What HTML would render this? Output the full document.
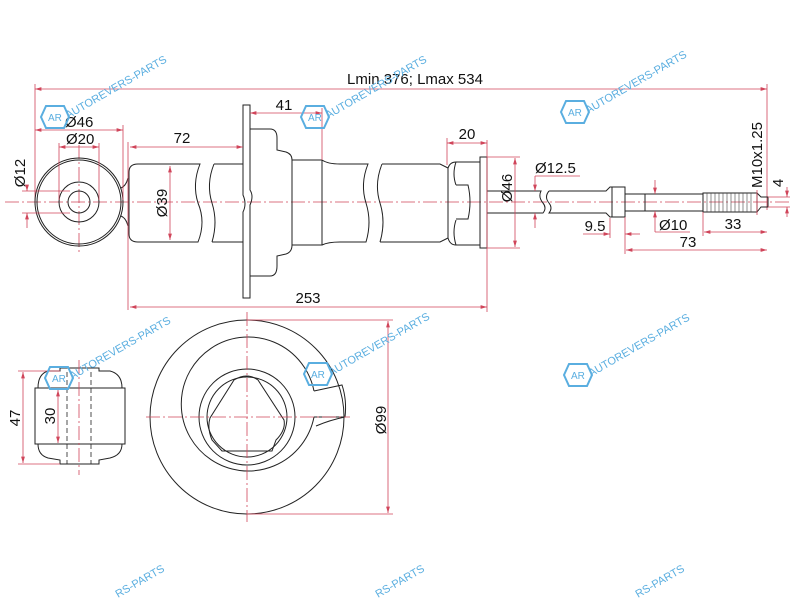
<!DOCTYPE html>
<html><head><meta charset="utf-8"><style>
html,body{margin:0;padding:0;background:#fff;width:800px;height:600px;overflow:hidden;}
svg{display:block;overflow:hidden}
text{font-family:"Liberation Sans",sans-serif;}
.o{fill:none;stroke:#222;stroke-width:1}
.d{stroke:#d0455a;stroke-width:0.8;fill:none}
.c{stroke:#d0455a;stroke-width:0.8;fill:none;stroke-dasharray:14 3 2 3}
.h{stroke:#222;stroke-width:0.8;fill:none;stroke-dasharray:5 3}
.t{font-size:15px;fill:#111}
.wm{font-size:11px;fill:#5aaee0}
</style></head><body>
<svg width="800" height="600" viewBox="0 0 800 600" xmlns="http://www.w3.org/2000/svg">
<defs>
<marker id="a" viewBox="0 0 10 6" refX="10" refY="3" markerWidth="8" markerHeight="5" orient="auto-start-reverse"><path d="M0,0L10,3L0,6z" fill="#d0455a"/></marker>
<g id="wm"><polygon points="-9,-11 9,-11 14,0 9,11 -9,11 -14,0" fill="none" stroke="#5aaee0" stroke-width="2"/><text x="-7" y="4" style="font-size:10px;fill:#5aaee0">AR</text><text x="13" y="2" class="wm" transform="rotate(-30 13 2)">AUTOREVERS-PARTS</text></g>
</defs>

<line class="d" x1="35" y1="89" x2="767" y2="89" marker-start="url(#a)" marker-end="url(#a)"/>
<line class="d" x1="35" y1="84" x2="35" y2="205"/>
<line class="d" x1="767" y1="84" x2="767" y2="210"/>
<text class="t" x="415" y="84" text-anchor="middle">Lmin 376; Lmax 534</text>

<line class="c" x1="5" y1="202" x2="792" y2="202"/>
<line class="c" x1="79" y1="145" x2="79" y2="255"/>

<circle class="o" cx="79" cy="202" r="44"/>
<circle class="o" cx="79" cy="202" r="42"/>
<circle class="o" cx="79" cy="202" r="20"/>
<circle class="o" cx="79" cy="202" r="11"/>
<path class="o" d="M121,188 Q126,186 128,178 M121,216 Q126,218 128,226"/>
<line class="d" x1="35" y1="130" x2="123" y2="130" marker-start="url(#a)" marker-end="url(#a)"/>
<line class="d" x1="123" y1="125" x2="123" y2="200"/>
<text class="t" x="65" y="127">Ø46</text>
<line class="d" x1="59" y1="147" x2="99" y2="147" marker-start="url(#a)" marker-end="url(#a)"/>
<line class="d" x1="59" y1="143" x2="59" y2="200"/><line class="d" x1="99" y1="143" x2="99" y2="200"/>
<text class="t" x="66" y="144">Ø20</text>
<line class="d" x1="27" y1="185" x2="27" y2="191" marker-end="url(#a)"/>
<line class="d" x1="27" y1="228" x2="27" y2="213" marker-end="url(#a)"/>
<line class="d" x1="22" y1="191" x2="70" y2="191"/><line class="d" x1="22" y1="213" x2="70" y2="213"/>
<text class="t" x="25" y="173" text-anchor="middle" transform="rotate(-90 25 173)">Ø12</text>

<path class="o" d="M200,164 L138,164 Q129,164 129,172 L129,234 Q129,242 138,242 L198,242 Q206,222 198,203 Q192,184 200,164Z"/>
<path class="o" d="M214,164 L243,164 M212,242 L243,242 M214,164 Q206,184 212,203 Q218,222 212,242"/>
<path class="o" d="M243,105 L250,105 L250,190 Q254,196 250,205 L250,298 L243,298 L243,212 Q247,204 243,195Z"/>
<line class="d" x1="170" y1="166" x2="170" y2="240" marker-start="url(#a)" marker-end="url(#a)"/>
<text class="t" x="167" y="203" text-anchor="middle" transform="rotate(-90 167 203)">Ø39</text>
<path class="o" d="M250,129 L270,129 Q277,129 277,138 L277,150 L286,152 Q292,154 292,160 L322,160 L322,245 L292,245 Q292,252 286,254 L277,256 L277,266 Q277,276 270,276 L250,276"/>
<line class="o" x1="292" y1="160" x2="292" y2="245"/>
<path class="o" d="M322,160 Q328,164 340,164 L368,164 Q360,184 366,203 Q372,222 366,242 L340,242 Q328,242 322,245"/>
<path class="o" d="M382,164 L440,164 L448,168 M380,242 L440,242 L448,238 M382,164 Q374,184 380,203 Q386,222 380,242"/>
<path class="o" d="M448,168 L448,238 M448,168 Q450,162 456,162 L480,162 L480,245 L456,245 Q450,245 448,238"/>
<path class="o" d="M456,162 Q452,174 456,185 M456,220 Q452,232 456,245 M456,185 L468,185 Q472,202 468,219 L456,219"/>
<rect class="o" x="480" y="157" width="7" height="91"/>
<path class="o" d="M487,191 L541,191 Q538,197 543,203 Q547,208 543,213 L487,213"/>
<path class="o" d="M549,191 L606,191 L610,187 L625,187 L625,217 L610,217 L606,213 L549,213 Q553,208 549,203 Q544,197 549,191"/>
<line class="o" x1="612" y1="187" x2="612" y2="217"/>
<path class="o" d="M625,194 L703,194 L703,211 L625,211"/>
<line class="o" x1="645" y1="194" x2="645" y2="211"/>
<rect class="o" x="703" y="193" width="54" height="19"/>
<g stroke="#444" stroke-width="0.6">
<line x1="707" y1="193" x2="707" y2="212"/><line x1="711" y1="193" x2="711" y2="212"/><line x1="715" y1="193" x2="715" y2="212"/><line x1="719" y1="193" x2="719" y2="212"/><line x1="723" y1="193" x2="723" y2="212"/><line x1="727" y1="193" x2="727" y2="212"/><line x1="731" y1="193" x2="731" y2="212"/><line x1="735" y1="193" x2="735" y2="212"/><line x1="739" y1="193" x2="739" y2="212"/><line x1="743" y1="193" x2="743" y2="212"/><line x1="747" y1="193" x2="747" y2="212"/><line x1="751" y1="193" x2="751" y2="212"/></g>
<path class="o" d="M757,193 L761,197 L768,197 L768,207 L761,207 L757,212"/>

<line class="d" x1="130" y1="147" x2="243" y2="147" marker-start="url(#a)" marker-end="url(#a)"/>
<line class="d" x1="128" y1="142" x2="128" y2="310"/>
<text class="t" x="182" y="143" text-anchor="middle">72</text>
<line class="d" x1="250" y1="113" x2="322" y2="113" marker-start="url(#a)" marker-end="url(#a)"/>
<line class="d" x1="322" y1="108" x2="322" y2="160"/>
<text class="t" x="284" y="110" text-anchor="middle">41</text>
<line class="d" x1="130" y1="307" x2="487" y2="307" marker-start="url(#a)" marker-end="url(#a)"/>
<line class="d" x1="487" y1="140" x2="487" y2="312"/>
<text class="t" x="308" y="303" text-anchor="middle">253</text>
<line class="d" x1="447" y1="143" x2="487" y2="143" marker-start="url(#a)" marker-end="url(#a)"/>
<line class="d" x1="447" y1="138" x2="447" y2="165"/>
<text class="t" x="467" y="139" text-anchor="middle">20</text>
<line class="d" x1="515" y1="158" x2="515" y2="247" marker-start="url(#a)" marker-end="url(#a)"/>
<line class="d" x1="487" y1="157" x2="520" y2="157"/><line class="d" x1="487" y1="248" x2="520" y2="248"/>
<text class="t" x="512" y="188" text-anchor="middle" transform="rotate(-90 512 188)">Ø46</text>
<line class="d" x1="535" y1="176" x2="535" y2="191" marker-end="url(#a)"/>
<line class="d" x1="535" y1="228" x2="535" y2="213" marker-end="url(#a)"/>
<line class="d" x1="535" y1="176" x2="580" y2="176"/>
<text class="t" x="535" y="173">Ø12.5</text>
<line class="d" x1="583" y1="234" x2="610" y2="234" marker-end="url(#a)"/>
<line class="d" x1="640" y1="234" x2="625" y2="234" marker-end="url(#a)"/>
<line class="d" x1="610" y1="218" x2="610" y2="238"/>
<text class="t" x="595" y="231" text-anchor="middle">9.5</text>
<line class="d" x1="655" y1="180" x2="655" y2="194" marker-end="url(#a)"/>
<line class="d" x1="655" y1="232" x2="655" y2="211" marker-end="url(#a)"/>
<line class="d" x1="655" y1="232" x2="690" y2="232"/>
<text class="t" x="659" y="230">Ø10</text>
<line class="d" x1="704" y1="232" x2="767" y2="232" marker-start="url(#a)" marker-end="url(#a)"/>
<line class="d" x1="703" y1="212" x2="703" y2="236"/>
<text class="t" x="733" y="229" text-anchor="middle">33</text>
<line class="d" x1="626" y1="250" x2="767" y2="250" marker-start="url(#a)" marker-end="url(#a)"/>
<line class="d" x1="625" y1="217" x2="625" y2="254"/>
<text class="t" x="688" y="247" text-anchor="middle">73</text>
<text class="t" x="762" y="155" text-anchor="middle" transform="rotate(-90 762 155)">M10x1.25</text>
<line class="d" x1="757" y1="190" x2="757" y2="215"/>
<line class="d" x1="787" y1="187" x2="787" y2="197" marker-end="url(#a)"/>
<line class="d" x1="787" y1="217" x2="787" y2="207" marker-end="url(#a)"/>
<line class="d" x1="768" y1="197" x2="790" y2="197"/><line class="d" x1="768" y1="207" x2="790" y2="207"/>
<text class="t" x="783" y="183" text-anchor="middle" transform="rotate(-90 783 183)">4</text>

<path class="o" d="M35,388 L35,444 L125,444 L125,388Z"/>
<path class="o" d="M38,388 Q38,374 48,371 L60,371 L60,368 L99,368 L99,371 L110,371 Q122,374 122,388"/>
<path class="o" d="M38,444 Q38,455 48,458 L60,460 L60,464 L99,464 L99,460 L110,458 Q122,455 122,444"/>
<line class="h" x1="67" y1="372" x2="67" y2="464"/><line class="h" x1="91" y1="372" x2="91" y2="464"/>
<line class="c" x1="79" y1="360" x2="79" y2="475"/>
<line class="d" x1="23" y1="372" x2="23" y2="463" marker-start="url(#a)" marker-end="url(#a)"/>
<line class="d" x1="18" y1="371" x2="60" y2="371"/><line class="d" x1="18" y1="464" x2="60" y2="464"/>
<text class="t" x="20" y="418" text-anchor="middle" transform="rotate(-90 20 418)">47</text>
<line class="d" x1="58" y1="390" x2="58" y2="443" marker-start="url(#a)" marker-end="url(#a)"/>
<text class="t" x="55" y="416" text-anchor="middle" transform="rotate(-90 55 416)">30</text>

<circle class="o" cx="247" cy="417" r="97"/>
<path class="o" d="M314,391 A67,67 0 1 0 314,417"/>
<path class="o" d="M314,391 L342,385 Q347,400 345,417 L314,417"/>
<path class="o" d="M316,426 Q330,420 345,417"/>
<circle class="o" cx="247" cy="417" r="48"/>
<circle class="o" cx="247" cy="417" r="40"/>
<path class="o" d="M234,380 Q247,372 258,380 L284,420 Q286,430 276,440 L272,451 L222,451 L212,440 Q207,428 210,418Z"/>
<line class="c" x1="247" y1="312" x2="247" y2="522"/>
<line class="c" x1="146" y1="417" x2="350" y2="417"/>
<line class="d" x1="388" y1="321" x2="388" y2="513" marker-start="url(#a)" marker-end="url(#a)"/>
<line class="d" x1="247" y1="320" x2="393" y2="320"/><line class="d" x1="247" y1="514" x2="393" y2="514"/>
<text class="t" x="386" y="420" text-anchor="middle" transform="rotate(-90 386 420)">Ø99</text>

<use href="#wm" x="55" y="117"/>
<use href="#wm" x="315" y="117"/>
<use href="#wm" x="575" y="112"/>
<use href="#wm" x="59" y="378"/>
<use href="#wm" x="318" y="374"/>
<use href="#wm" x="578" y="375"/>
<text class="wm" x="118" y="598" transform="rotate(-30 118 598)">RS-PARTS</text>
<text class="wm" x="378" y="598" transform="rotate(-30 378 598)">RS-PARTS</text>
<text class="wm" x="638" y="598" transform="rotate(-30 638 598)">RS-PARTS</text>
</svg>
</body></html>
